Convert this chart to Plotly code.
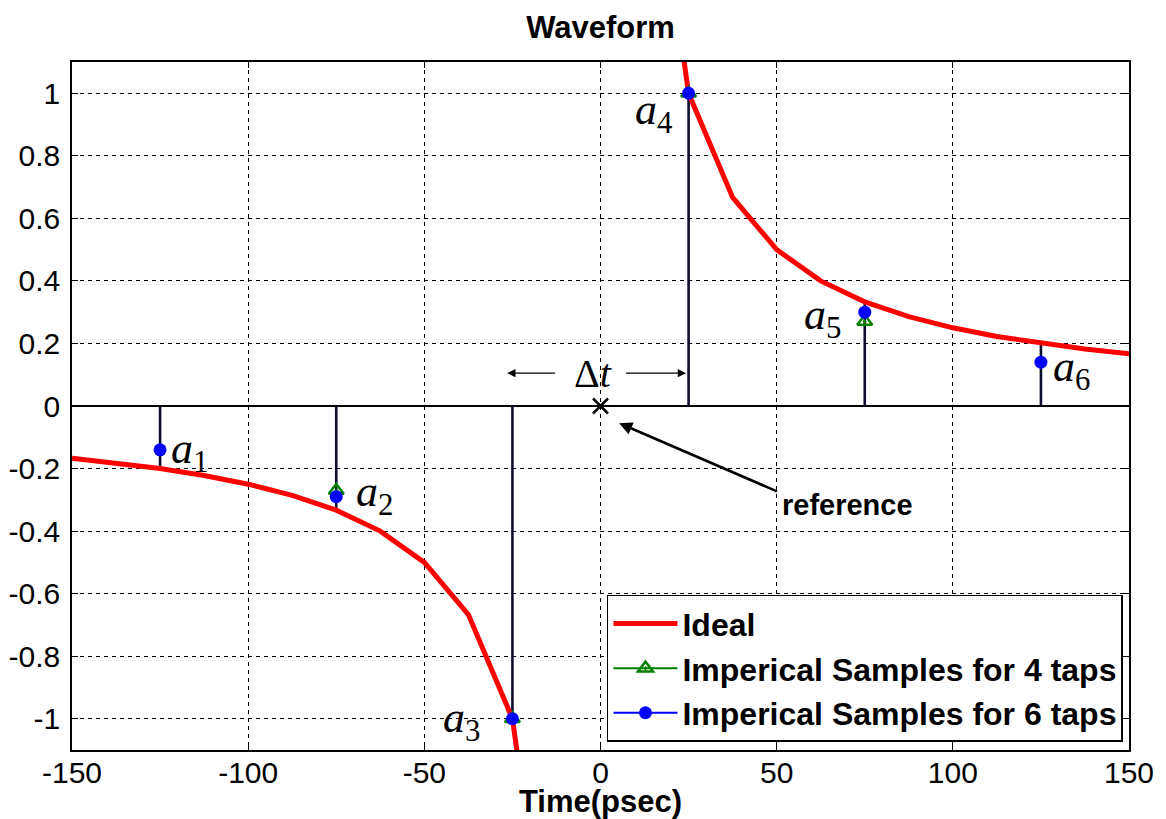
import plotly.graph_objects as go

# ---------------- data ----------------
ideal_x = [-150, -137.5, -125, -112.5, -100, -87.5, -75, -62.5, -50, -37.5, -25, -12.5, None,
           12.5, 25, 37.5, 50, 62.5, 75, 87.5, 100, 112.5, 125, 137.5, 150]
ideal_y = [-0.167, -0.182, -0.2, -0.222, -0.25, -0.286, -0.333, -0.4, -0.5, -0.667, -1.0, -2.0, None,
           2.0, 1.0, 0.667, 0.5, 0.4, 0.333, 0.286, 0.25, 0.222, 0.2, 0.182, 0.167]

tap_x = [-125, -75, -25, 25, 75, 125]
ideal_at_taps = [-0.2, -0.333, -1.0, 1.0, 0.333, 0.2]

taps4_x = [-75, -25, 25, 75]
taps4_y = [-0.27, -1.0, 1.0, 0.27]

taps6_x = [-125, -75, -25, 25, 75, 125]
taps6_y = [-0.14, -0.29, -1.0, 1.0, 0.30, 0.14]

tap_labels = ["1", "2", "3", "4", "5", "6"]
# label offsets (pixels) relative to each 6-tap sample
label_dx = [9, 18, -30, -15, -22, 10]
label_dy = [-2, 2, -2, -19, -5, -7]
label_anchor = ["left", "left", "right", "right", "right", "left"]

xticks = [-150, -100, -50, 0, 50, 100, 150]
xtick_text = ["-150", "-100", "-50", "0", "50", "100", "150"]
yticks = [-1, -0.8, -0.6, -0.4, -0.2, 0, 0.2, 0.4, 0.6, 0.8, 1]
ytick_text = ["-1", "-0.8", "-0.6", "-0.4", "-0.2", "0", "0.2", "0.4", "0.6", "0.8", "1"]

# ---------------- figure ----------------
fig = go.Figure()

# stems (0 -> ideal sample)
sx, sy = [], []
for x, y in zip(tap_x, ideal_at_taps):
    sx += [x, x, None]
    sy += [0, y, None]
fig.add_trace(go.Scatter(x=sx, y=sy, mode="lines", line=dict(color="#0d0d30", width=2.6),
                         showlegend=False, hoverinfo="skip"))

fig.add_trace(go.Scatter(x=ideal_x, y=ideal_y, mode="lines", name="<b>Ideal</b>",
                         line=dict(color="#ff0000", width=5), connectgaps=False))


def gapped(xs, ys):
    gx, gy = [], []
    for x, y in zip(xs, ys):
        gx += [x, None]
        gy += [y, None]
    return gx, gy


g4x, g4y = gapped(taps4_x, taps4_y)
fig.add_trace(go.Scatter(x=g4x, y=g4y, mode="lines+markers", name="<b>Imperical Samples for 4 taps</b>",
                         line=dict(color="#008000", width=2), connectgaps=False,
                         marker=dict(symbol="triangle-up-open-dot", size=13, color="#008000",
                                     line=dict(width=2.5, color="#008000"))))
g6x, g6y = gapped(taps6_x, taps6_y)
fig.add_trace(go.Scatter(x=g6x, y=g6y, mode="lines+markers", name="<b>Imperical Samples for 6 taps</b>",
                         line=dict(color="#0000ff", width=2), connectgaps=False,
                         marker=dict(symbol="circle", size=13, color="#0000ff")))

# reference cross
fig.add_trace(go.Scatter(x=[0], y=[0], mode="markers", showlegend=False, hoverinfo="skip",
                         marker=dict(symbol="x-thin", size=15, line=dict(width=2.5, color="black"))))

annotations = []
for x, y, lab, dx, dy, anc in zip(taps6_x, taps6_y, tap_labels, label_dx, label_dy, label_anchor):
    annotations.append(dict(x=x, y=y, xref="x", yref="y", text=f"<i>a</i><sub>{lab}</sub>",
                            showarrow=False, xanchor=anc, yanchor="middle", xshift=dx, yshift=dy,
                            font=dict(family="Liberation Serif", size=44, color="black")))

# delta t
annotations.append(dict(x=-2, y=0.105, xref="x", yref="y", text="Δ<i>t</i>", showarrow=False,
                        font=dict(family="Liberation Serif", size=40, color="black")))
annotations.append(dict(x=-26.5, y=0.105, ax=-12.5, ay=0.105, xref="x", yref="y", axref="x", ayref="y",
                        text="", showarrow=True, arrowhead=2, arrowsize=1.4, arrowwidth=1.2,
                        arrowcolor="black"))
annotations.append(dict(x=24.3, y=0.105, ax=6.8, ay=0.105, xref="x", yref="y", axref="x", ayref="y",
                        text="", showarrow=True, arrowhead=2, arrowsize=1.4, arrowwidth=1.2,
                        arrowcolor="black"))
# reference arrow
annotations.append(dict(x=5.3, y=-0.055, ax=50.5, ay=-0.275, xref="x", yref="y", axref="x", ayref="y",
                        text="", showarrow=True, arrowhead=2, arrowsize=1, arrowwidth=2.6,
                        arrowcolor="black"))
annotations.append(dict(x=51.0, y=-0.315, xref="x", yref="y", text="<b>reference</b>", showarrow=False,
                        xanchor="left", yanchor="middle",
                        font=dict(family="Liberation Sans", size=29, color="black")))

axis_common = dict(showline=True, linecolor="black", linewidth=1.5, mirror="ticks",
                   ticks="inside", ticklen=6, tickcolor="black", tickwidth=1,
                   showgrid=True, gridcolor="black", gridwidth=1, griddash="4px,4px",
                   automargin=False,
                   tickfont=dict(family="Liberation Sans", size=30, color="black"))

fig.update_layout(
    width=1158, height=811,
    margin=dict(l=64, r=37, t=54, b=69),
    paper_bgcolor="white", plot_bgcolor="white",
    title=dict(text="<b>Waveform</b>", x=0.5, xref="paper", y=0.977, yanchor="middle",
               font=dict(family="Liberation Sans", size=31, color="black")),
    xaxis=dict(range=[-150, 150], tickvals=xticks, ticktext=xtick_text, zeroline=False,
               ticklabelstandoff=-5,
               title=dict(text="<b>Time(psec)</b>", standoff=2,
                          font=dict(family="Liberation Sans", size=31, color="black")),
               **axis_common),
    yaxis=dict(range=[-1.1, 1.1], tickvals=yticks, ticktext=ytick_text, zeroline=True,
               zerolinecolor="black", zerolinewidth=1.5, ticklabelstandoff=4, **axis_common),
    legend=dict(x=0.9943, y=0.012, xanchor="right", yanchor="bottom", bgcolor="white",
                bordercolor="black", borderwidth=1.5,
                font=dict(family="Liberation Sans", size=32, color="black"), itemwidth=64),
    annotations=annotations,
    showlegend=True,
)

fig.write_html("out.html")
